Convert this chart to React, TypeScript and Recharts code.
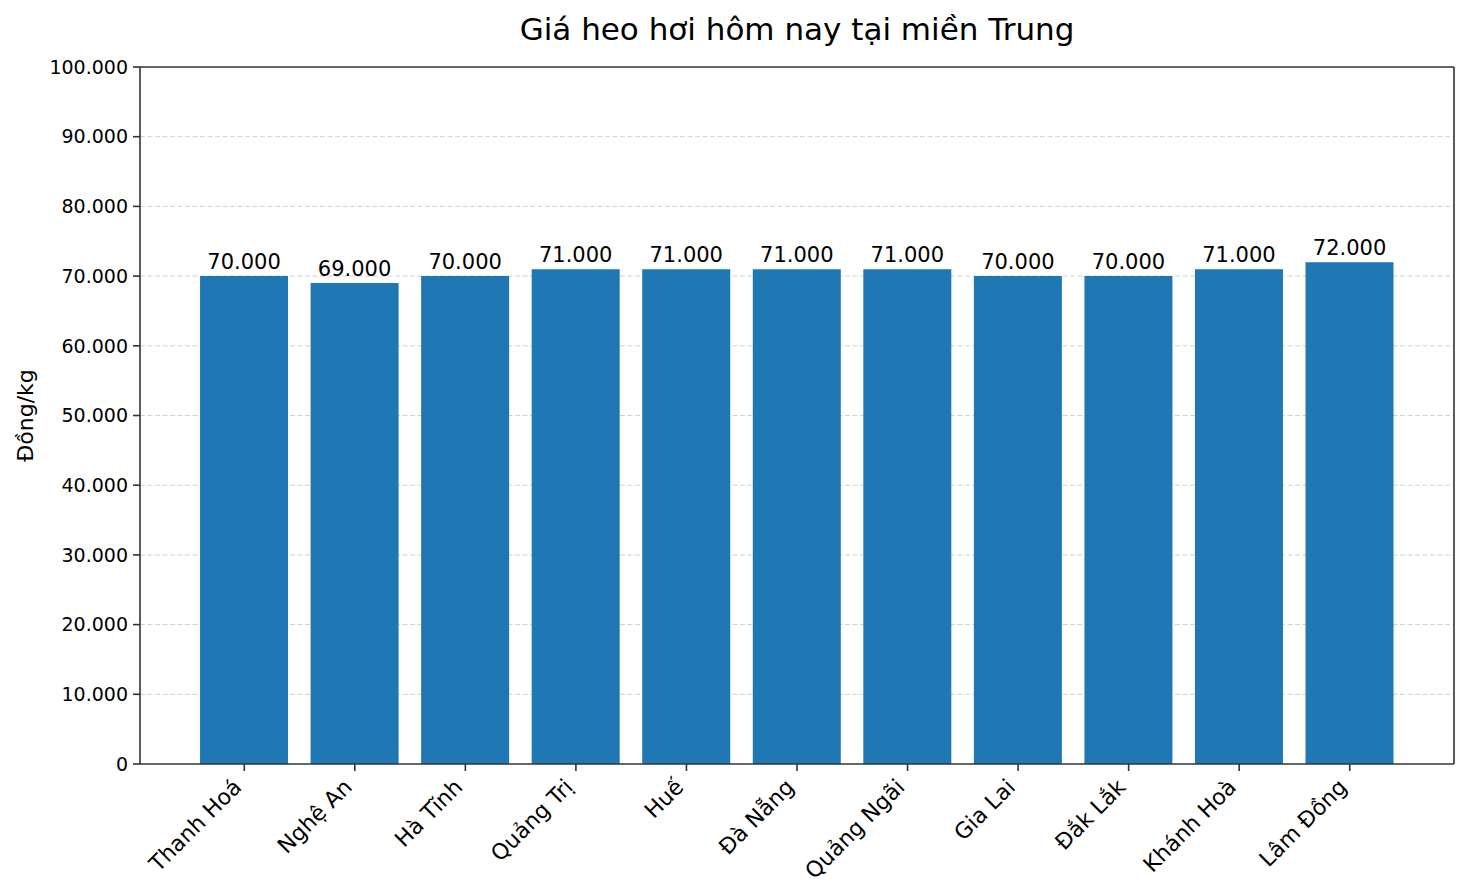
import React from 'react';
import {
  BarChart,
  Bar,
  XAxis,
  YAxis,
  CartesianGrid,
  LabelList,
} from 'recharts';

// dữ liệu giá heo hơi (đồng/kg)
const provinces = [
  'Thanh Hoá',
  'Nghệ An',
  'Hà Tĩnh',
  'Quảng Trị',
  'Huế',
  'Đà Nẵng',
  'Quảng Ngãi',
  'Gia Lai',
  'Đắk Lắk',
  'Khánh Hoà',
  'Lâm Đồng',
];
const prices = [70000, 69000, 70000, 71000, 71000, 71000, 71000, 70000, 70000, 71000, 72000];
const yTicks = [0, 10000, 20000, 30000, 40000, 50000, 60000, 70000, 80000, 90000, 100000];
const gridValues = [10000, 20000, 30000, 40000, 50000, 60000, 70000, 80000, 90000];

const FONT = '"DejaVu Sans", sans-serif';

const fmt = (v: number) => String(v).replace(/\B(?=(\d{3})+(?!\d))/g, '.');

const data = provinces.map((name, i) => ({ name, price: prices[i] }));

function RotatedTick(props: any) {
  const { x, y, payload } = props;
  return (
    <g transform={`translate(${x - 7},${y + 10})`}>
      <text
        transform="rotate(-45)"
        textAnchor="end"
        dy="0.35em"
        fontSize={22}
        fontFamily={FONT}
        fill="#000"
      >
        {payload.value}
      </text>
    </g>
  );
}

export default function App() {
  return (
    <div style={{ position: 'absolute', left: 0, top: 0, width: 1468, height: 896, background: '#fff' }}>
      <svg
        width={1468}
        height={60}
        style={{ position: 'absolute', left: 0, top: 0, pointerEvents: 'none' }}
      >
        <text x={797} y={40} textAnchor="middle" fontSize={31} fontFamily={FONT} fill="#000">
          Giá heo hơi hôm nay tại miền Trung
        </text>
      </svg>
      <BarChart
        width={1468}
        height={896}
        data={data}
        margin={{ top: 66, right: 13, bottom: 0, left: 0 }}
        barCategoryGap="10%"
      >
        <XAxis
          dataKey="name"
          height={132}
          padding={{ left: 49, right: 49 }}
          interval={0}
          tick={<RotatedTick />}
          tickSize={7}
          axisLine={{ stroke: '#333', strokeWidth: 1.6 }}
          tickLine={{ stroke: '#333', strokeWidth: 1.6 }}
        />
        <XAxis
          xAxisId="top"
          dataKey="name"
          orientation="top"
          height={1}
          tick={false}
          tickLine={false}
          axisLine={{ stroke: '#333', strokeWidth: 1.6 }}
        />
        <YAxis
          width={140}
          domain={[0, 100000]}
          ticks={yTicks}
          interval={0}
          tickFormatter={fmt}
          tickSize={7}
          tickMargin={5}
          tick={{ fontSize: 19, fontFamily: FONT, fill: '#000' }}
          axisLine={{ stroke: '#333', strokeWidth: 1.6 }}
          tickLine={{ stroke: '#333', strokeWidth: 1.6 }}
          label={{
            value: 'Đồng/kg',
            angle: -90,
            position: 'insideLeft',
            dx: 20,
            style: { fontSize: 22, fontFamily: FONT, fill: '#000', textAnchor: 'middle' },
          }}
        />
        <YAxis
          yAxisId="right"
          orientation="right"
          width={1}
          domain={[0, 100000]}
          tick={false}
          tickLine={false}
          axisLine={{ stroke: '#333', strokeWidth: 1.6 }}
        />
        <Bar dataKey="price" fill="#1f77b4" isAnimationActive={false}>
          <LabelList
            dataKey="price"
            position="top"
            offset={7}
            formatter={(v: any) => fmt(Number(v))}
            style={{ fontSize: 21, fontFamily: FONT, fill: '#000' }}
          />
        </Bar>
        <CartesianGrid
          vertical={false}
          strokeDasharray="5 2.5"
          stroke="#b0b0b0"
          strokeOpacity={0.6}
          horizontalValues={gridValues}
        />
      </BarChart>
    </div>
  );
}
